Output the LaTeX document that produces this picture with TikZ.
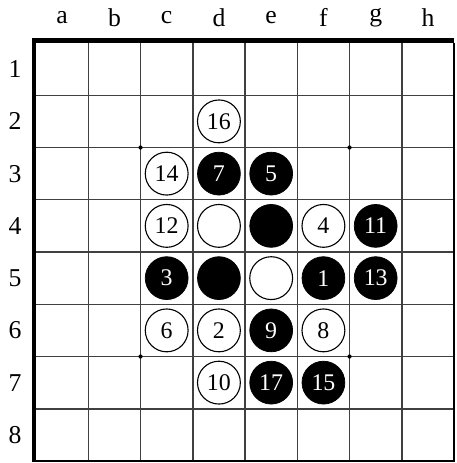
\documentclass[tikz,border=0pt]{standalone}
\usepackage{fontspec}
\setmainfont{Liberation Serif}
\usetikzlibrary{positioning}

\begin{document}
\begin{tikzpicture}[x=1cm, y=1cm,
		gridline/.style={draw=black!75, line width=0.8pt},
		whitedisc/.style={circle, draw=black, line width=0.6pt, fill=white, minimum size=0.82cm, inner sep=0pt, font=\fontsize{13}{15}\selectfont},
		blackdisc/.style={circle, draw=black, fill=black, text=white, minimum size=0.82cm, inner sep=0pt, font=\fontsize{13}{15}\selectfont},
		boardlabel/.style={inner sep=0pt, font=\fontsize{14}{16}\selectfont}]
		\useasboundingbox (-0.690, -8.038) rectangle (8.046, 0.823);
		% grid
		\foreach \i in {1,...,7} {
			\draw[gridline] (\i, 0) -- (\i, -8);
			\draw[gridline] (0, -\i) -- (8, -\i);
		}
		\draw[black, line width=0.8pt] (8, 0) -- (8, -8) -- (0, -8);
		\draw[black, line width=2.7pt] (-0.08, 0.05) -- (8.008, 0.05);
		\draw[black, line width=2.2pt] (-0.04, 0.1) -- (-0.04, -8.015);
		% star points
		\foreach \p in {(2, -2), (6, -2), (2, -6), (6, -6)}
			\fill[black] \p circle (0.04);
		% labels
		\foreach \c [count=\i from 0] in {a,b,c,d,e,f,g,h}
			\node[boardlabel] (col-\c) at (\i + 0.5, 0.48) {\c};
		\foreach \r in {1,...,8}
			\node[boardlabel] (row-\r) at (-0.40, -\r + 0.5) {\r};
		% white discs
		\node[whitedisc] (d2) at (3.5, -1.5) {16};
		\node[whitedisc] (c3) at (2.5, -2.5) {14};
		\node[whitedisc] (c4) at (2.5, -3.5) {12};
		\node[whitedisc] (d4) at (3.5, -3.5) {};
		\node[whitedisc] (f4) at (5.5, -3.5) {4};
		\node[whitedisc] (e5) at (4.5, -4.5) {};
		\node[whitedisc] (c6) at (2.5, -5.5) {6};
		\node[whitedisc] (d6) at (3.5, -5.5) {2};
		\node[whitedisc] (f6) at (5.5, -5.5) {8};
		\node[whitedisc] (d7) at (3.5, -6.5) {10};
		% black discs
		\node[blackdisc] (d3) at (3.5, -2.5) {7};
		\node[blackdisc] (e3) at (4.5, -2.5) {5};
		\node[blackdisc] (e4) at (4.5, -3.5) {};
		\node[blackdisc] (g4) at (6.5, -3.5) {11};
		\node[blackdisc] (c5) at (2.5, -4.5) {3};
		\node[blackdisc] (d5) at (3.5, -4.5) {};
		\node[blackdisc] (f5) at (5.5, -4.5) {1};
		\node[blackdisc] (g5) at (6.5, -4.5) {13};
		\node[blackdisc] (e6) at (4.5, -5.5) {9};
		\node[blackdisc] (e7) at (4.5, -6.5) {17};
		\node[blackdisc] (f7) at (5.5, -6.5) {15};
	\end{tikzpicture}
\end{document}
